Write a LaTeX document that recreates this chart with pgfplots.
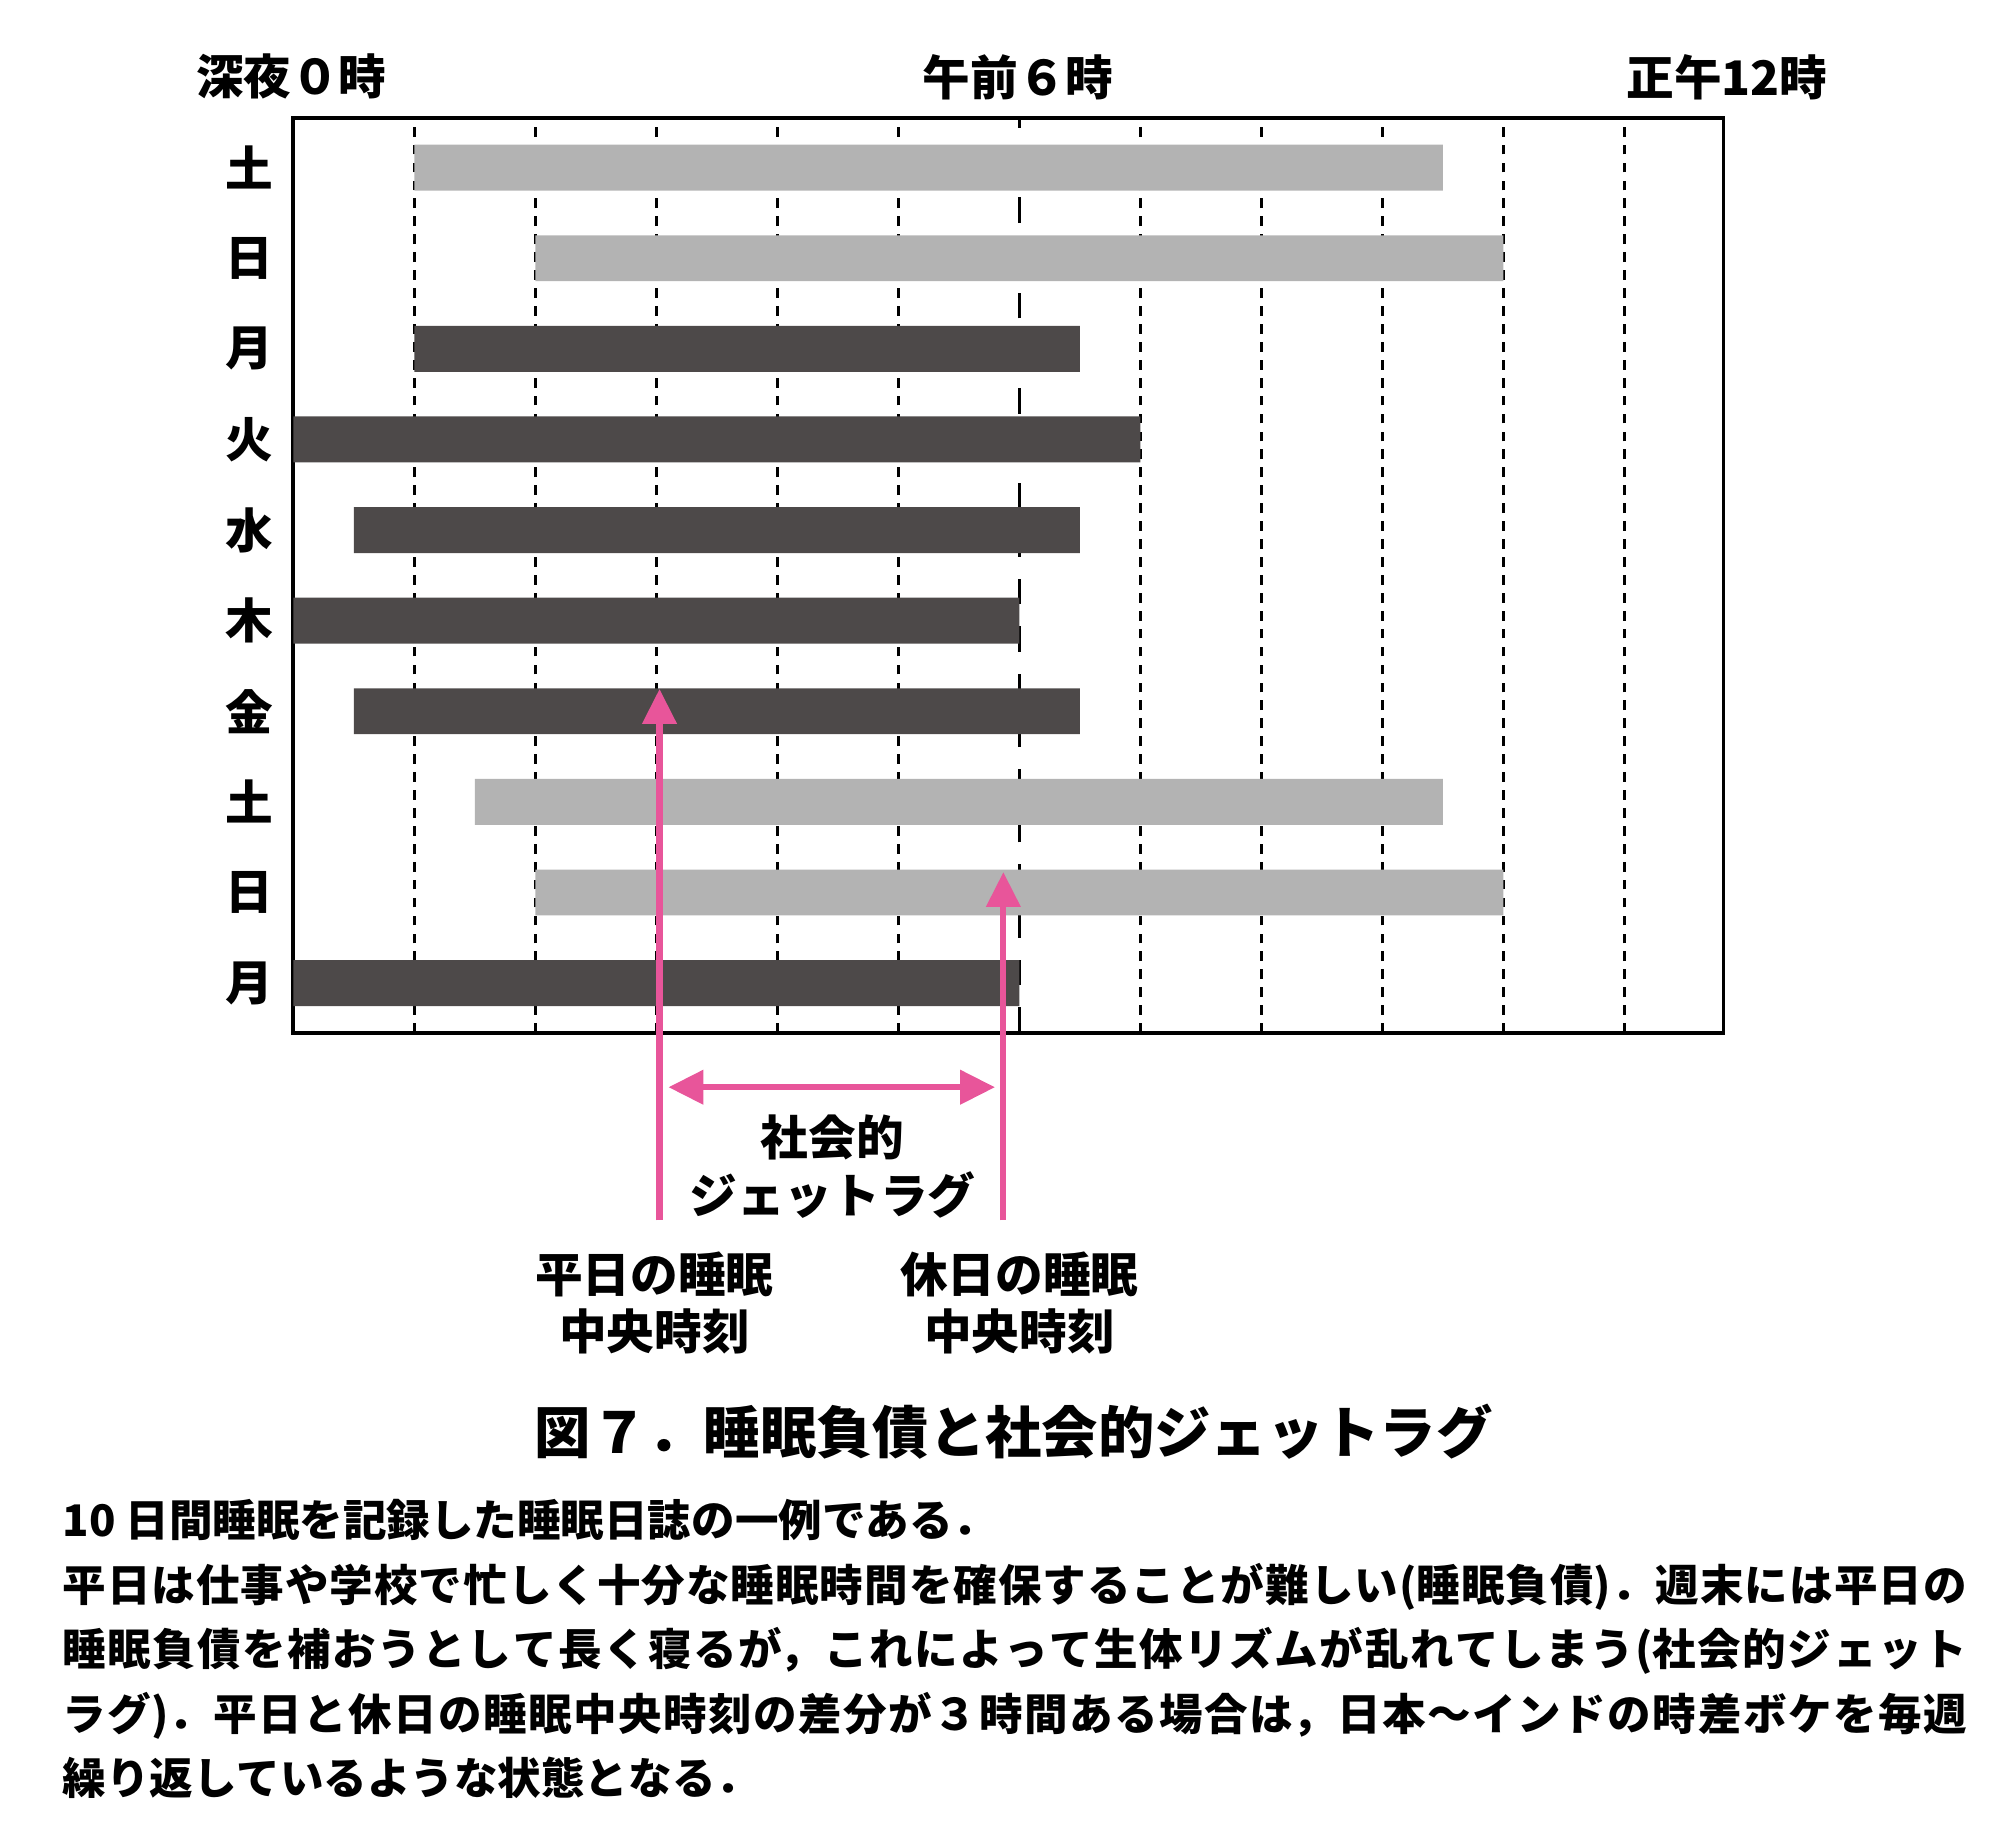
\documentclass[border=0pt]{standalone}
\usepackage{fontspec}
\setmainfont{Noto Sans CJK JP}
\usepackage{pgfplots}
\pgfplotsset{compat=1.18}
\usetikzlibrary{arrows.meta}
\definecolor{lightbar}{RGB}{179,179,179}
\definecolor{darkbar}{RGB}{77,73,73}
\definecolor{pinkarrow}{RGB}{232,85,154}
\XeTeXlinebreaklocale "ja"
\XeTeXlinebreakskip=0pt plus 1pt
\newcommand\lab{\fontsize{9.3pt}{11pt}\selectfont\bfseries}
\begin{document}
\begin{tikzpicture}
\path[use as bounding box] (0,0) rectangle (392pt,-357.5pt);
\begin{axis}[
  at={(57.25pt,-201.65pt)}, anchor=south west,
  scale only axis, width=279.25pt, height=178.65pt,
  xmin=0, xmax=11.82, ymin=0.45, ymax=10.55,
  xbar stacked, bar width=0.507,
  xtick={1,2,3,4,5,7,8,9,10,11}, xticklabels={},
  xmajorgrids,
  major grid style={black, line width=0.65pt, dash pattern=on 1.9pt off 1.6pt},
  extra x ticks={6}, extra x tick labels={},
  extra x tick style={grid=major, major grid style={black, line width=0.65pt, dash pattern=on 5pt off 4.3pt}},
  ytick={1,...,10}, yticklabels={月,日,土,金,木,水,火,月,日,土},
  ymajorgrids=false,
  major tick length=0pt, minor tick length=0pt,
  yticklabel style={font=\lab, inner xsep=0pt, xshift=-3.8pt},
  axis line style={black, line width=0.7pt},
  clip=false,
]
% start hour (invisible), weekday sleep length (dark), weekend sleep length (light)
\addplot[draw=none, fill=none] coordinates {(1,10) (2,9) (1,8) (0,7) (0.5,6) (0,5) (0.5,4) (1.5,3) (2,2) (0,1)};
\addplot[draw=none, fill=darkbar] coordinates {(0,10) (0,9) (5.5,8) (7,7) (6,6) (6,5) (6,4) (0,3) (0,2) (6,1)};
\addplot[draw=none, fill=lightbar] coordinates {(8.5,10) (8,9) (0,8) (0,7) (0,6) (0,5) (0,4) (8,3) (8,2) (0,1)};
\end{axis}
\begin{scope}[x=0.25pt, y=-0.25pt]
\node[font=\lab, inner sep=0pt] at (227.5,60) {深夜０時};
\node[font=\lab, inner sep=0pt] at (795,60) {午前６時};
\node[font=\lab, inner sep=0pt] at (1348.5,60) {正午12時};
\draw[pinkarrow, line width=1.2pt, -{Triangle[width=6.5pt,length=6.8pt]}] (515,953) -- (515,538);
\draw[pinkarrow, line width=1.2pt, -{Triangle[width=6.5pt,length=6.8pt]}] (783.5,953) -- (783.5,681);
\draw[pinkarrow, line width=1.2pt, {Triangle[width=6.5pt,length=6.8pt]}-{Triangle[width=6.5pt,length=6.8pt]}] (522,849) -- (777,849);
\node[font=\lab, inner sep=0pt] at (650,888) {社会的};
\node[font=\lab, inner sep=0pt] at (650,933) {ジェットラグ};
\node[font=\lab, inner sep=0pt] at (511,995) {平日の睡眠};
\node[font=\lab, inner sep=0pt] at (511,1040) {中央時刻};
\node[font=\lab, inner sep=0pt] at (796,995) {休日の睡眠};
\node[font=\lab, inner sep=0pt] at (796,1040) {中央時刻};
\node[font=\fontsize{11pt}{13pt}\selectfont\bfseries, inner sep=0pt] at (791.5,1118) {図７．睡眠負債と社会的ジェットラグ};
\node[anchor=north west, inner sep=0pt, text width=371.75pt, align=justify, font=\fontsize{8.5pt}{12.6pt}\selectfont\bfseries] at (48,1170) {10 日間睡眠を記録した睡眠日誌の一例である．\newline 平日は仕事や学校で忙しく十分な睡眠時間を確保することが難しい(睡眠負債)．週末には平日の\linebreak 睡眠負債を補おうとして長く寝るが，これによって生体リズムが乱れてしまう(社会的ジェット\linebreak ラグ)．平日と休日の睡眠中央時刻の差分が３時間ある場合は，日本～インドの時差ボケを毎週\linebreak 繰り返しているような状態となる．};
\end{scope}
\end{tikzpicture}
\end{document}
